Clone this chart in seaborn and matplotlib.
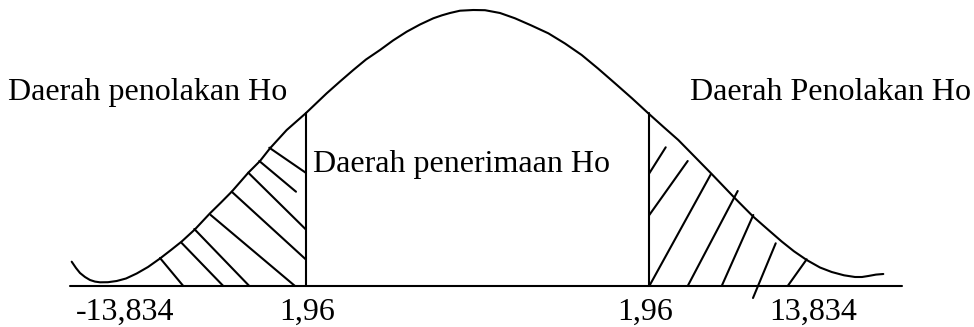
import matplotlib
matplotlib.use("Agg")
import matplotlib.pyplot as plt
import seaborn as sns
import pandas as pd

# Curve (diagram units = pixels, y downward)
curve_x = [71.7, 76, 80, 85, 90, 95, 100, 108, 116.7, 126, 136.7, 148, 160, 171, 181.7,
           195, 210, 221, 231.7, 248.3, 260, 270, 286.7, 305.7, 326.7, 340, 353.3, 366,
           380, 393, 406.7, 420, 433.3, 442, 450, 460, 473.3, 485, 500, 515, 531,
           548.3, 565, 581.7, 598, 615, 632, 648.3, 663, 678.3, 695, 711.7, 735, 753.3,
           768, 781.7, 794, 806.7, 820, 831.7, 844, 855, 862, 868.3, 876, 883.3]
curve_y = [261.7, 268, 273, 277, 280, 281.6, 282.3, 282.2, 281, 278.5, 273.5, 267,
           258.5, 250, 241.5, 229.3, 213.3, 202.5, 191.7, 172.7, 161, 148.3, 130,
           113.3, 93.3, 81.5, 70, 59.5, 50, 40.5, 31.7, 24.5, 18.3, 15.3, 13, 10.7,
           10, 10.2, 13, 18.3, 25.3, 33.3, 43.5, 55, 68.5, 83.3, 98.3, 113.3, 126.5,
           140, 157, 174, 198.3, 216.7, 229.6, 241.5, 251.3, 260, 267.5, 272, 275.3,
           277, 277, 276, 274.6, 274]

# Axis line and critical boundaries
axis_x = [70, 902]
axis_y = [286, 286]
crit_x = [305.7, 649.3]
crit_top = [113.3, 113.3]

# Hatch strokes (start/end) in the rejection regions
hatch_x0 = [160, 181.7, 194.3, 210.7, 231.7, 248.3, 259.3, 269.3,
            649.3, 649.3, 649.3, 687.7, 721.7, 753, 787.7]
hatch_y0 = [258, 243, 229, 215, 191.7, 172.7, 161, 147.7,
            173.3, 215, 286, 286, 286, 298, 286]
hatch_x1 = [183.3, 223.3, 249.3, 295, 305.7, 305.7, 296, 305.7,
            665.7, 687.7, 711, 737.7, 753.3, 775.7, 806.7]
hatch_y1 = [286, 286, 286, 286, 259.3, 229.3, 191.7, 172.7,
            147.3, 161, 174, 191, 215, 243.3, 259.3]

region_labels = ["Daerah penolakan Ho", "Daerah penerimaan Ho", "Daerah Penolakan Ho"]
tick_labels = ["-13,834", "1,96", "1,96", "13,834"]

sns.set_theme(style="white")
plt.rcParams['font.family'] = ['Liberation Serif', 'DejaVu Serif']

fig = plt.figure(figsize=(9.74, 3.27), dpi=100)
ax = fig.add_axes([0, 0, 1, 1])
lw = 1.5
black = "black"

df_curve = pd.DataFrame({"x": curve_x, "y": curve_y})
sns.lineplot(data=df_curve, x="x", y="y", sort=False, estimator=None,
             color=black, lw=lw, ax=ax, solid_joinstyle="round")
sns.lineplot(x=axis_x, y=axis_y, sort=False, estimator=None, color=black, lw=lw, ax=ax)
for cx, ct in zip(crit_x, crit_top):
    sns.lineplot(x=[cx, cx], y=[axis_y[0], ct], sort=False, estimator=None,
                 color=black, lw=lw, ax=ax)
for x0, y0, x1, y1 in zip(hatch_x0, hatch_y0, hatch_x1, hatch_y1):
    sns.lineplot(x=[x0, x1], y=[y0, y1], sort=False, estimator=None,
                 color=black, lw=lw, ax=ax)

fs = 23
label_pos = [(8, 100), (313, 172), (690, 100)]
for (tx, ty), t in zip(label_pos, region_labels):
    ax.text(tx, ty, t, fontsize=fs, ha="left", va="baseline", color=black)
tick_pos = [(76, 320), (279, 320), (617, 320), (769, 320)]
for (tx, ty), t in zip(tick_pos, tick_labels):
    ax.text(tx, ty, t, fontsize=fs, ha="left", va="baseline", color=black)

ax.set_xlim(0, 974)
ax.set_ylim(327, 0)
ax.axis("off")
fig.savefig("out.png", dpi=100, facecolor="white")
